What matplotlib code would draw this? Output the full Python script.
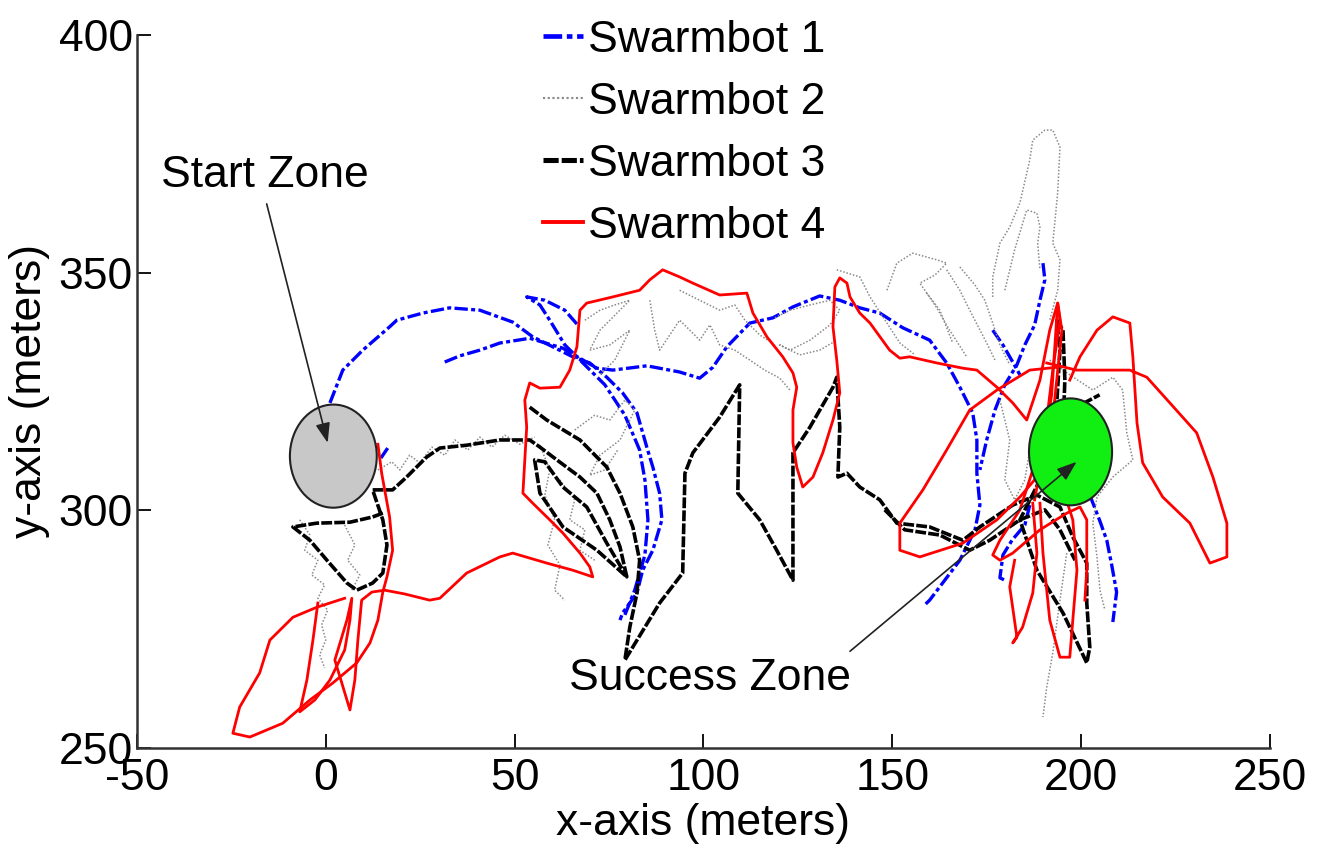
import matplotlib
matplotlib.use('Agg')
import matplotlib.pyplot as plt
from matplotlib import font_manager
from matplotlib.patches import Ellipse
from matplotlib.lines import Line2D

# prefer a narrow face for all text
installed = {f.name for f in font_manager.fontManager.ttflist}
narrow = [n for n in ('Liberation Sans Narrow', 'DejaVu Sans Condensed', 'Liberation Sans') if n in installed]
plt.rcParams['font.family'] = narrow + ['DejaVu Sans']
plt.rcParams['axes.unicode_minus'] = False

# ---- Swarmbot 1 track pieces (x, y in meters)
bot1_a = [(1.1, 322.6), (4.5, 329.5), (9.8, 333.7), (16.9, 338.6), (18.8, 340.0), (25.7, 341.5),
          (32.8, 342.6), (40.8, 342.1), (49.5, 339.6), (54.8, 336.5), (65.4, 332.3), (69.9, 331.0),
          (74.4, 328.0), (78.6, 324.7), (82.4, 320.5), (85.0, 313.3), (86.6, 309.1), (88.4, 303.6),
          (89.0, 298.0), (86.6, 291.6), (83.9, 287.4), (82.4, 282.6), (78.6, 278.4), (77.9, 276.9)]
bot1_b = [(79.2, 278.0), (81.8, 283.2), (84.5, 290.6), (85.3, 298.0), (84.5, 306.4), (83.1, 312.7),
          (79.2, 320.0), (73.9, 326.4), (68.6, 330.6), (63.3, 334.8), (59.3, 340.0), (56.7, 343.2),
          (53.2, 344.9), (58.0, 344.2), (63.3, 342.1), (66.7, 339.0)]
bot1_c = [(31.5, 331.2), (35.5, 332.5), (40.8, 333.7), (46.1, 335.2), (54.0, 336.2), (62.8, 334.1),
          (71.8, 329.9), (76.0, 329.5), (85.0, 330.4), (93.7, 329.1), (99.0, 327.8), (102.5, 330.1),
          (106.2, 334.4), (112.3, 339.4), (118.4, 340.5), (123.7, 342.8), (130.8, 345.1), (136.1, 344.2),
          (141.4, 342.6), (146.7, 341.5), (152.8, 338.4), (159.9, 335.8), (164.4, 331.0), (167.9, 325.9),
          (171.3, 320.5), (172.4, 314.8), (172.4, 307.8), (173.2, 301.1), (171.9, 295.9), (167.9, 289.5),
          (163.9, 285.3), (159.9, 281.1), (158.6, 280.1)]
bot1_d = [(14.6, 311.0), (16.4, 313.1)]
bot1_e = [(189.9, 352.0), (190.4, 348.5), (189.1, 344.2), (187.7, 339.0), (185.1, 334.8), (183.0, 330.6),
          (179.8, 326.4), (177.2, 321.1), (175.0, 314.8), (173.2, 308.5)]
bot1_f = [(176.6, 337.9), (179.3, 334.8), (181.9, 331.2), (183.8, 328.5)]
bot1_g = [(186.4, 301.1), (185.1, 296.9), (181.7, 293.7), (179.3, 290.6), (178.5, 285.8), (179.8, 285.3)]
bot1_h = [(202.3, 303.2), (204.9, 297.9), (206.8, 293.7), (208.1, 288.5), (209.4, 282.8), (208.4, 276.5)]
bot1 = [bot1_a, bot1_b, bot1_c, bot1_d, bot1_e, bot1_f, bot1_g, bot1_h]

# ---- Swarmbot 2 track pieces
bot2_a = [(13.8, 308.5), (17.5, 310.2), (19.6, 308.5), (22.2, 311.6), (24.9, 310.0), (28.1, 313.3),
          (31.5, 311.6), (34.2, 314.8), (37.6, 312.7), (40.8, 315.4), (44.0, 313.3), (47.4, 315.8),
          (51.4, 313.9), (55.3, 315.4)]
bot2_b = [(-6.9, 298.0), (-4.2, 294.8), (-5.6, 291.6), (-2.1, 289.5), (-3.7, 286.4), (-0.3, 284.3),
          (-2.1, 281.5), (0.5, 279.0), (-1.1, 275.9), (0.0, 272.7), (-1.6, 269.6), (-0.3, 266.8)]
bot2_c = [(5.0, 296.9), (7.7, 292.7), (5.8, 289.5), (9.0, 286.4), (6.9, 283.2)]
bot2_d = [(56.7, 313.7), (59.3, 308.5), (58.0, 303.2), (60.6, 298.0), (58.8, 292.7), (62.0, 288.5),
          (60.6, 283.2), (63.3, 281.1)]
bot2_e = [(65.9, 316.9), (71.2, 320.0), (75.2, 319.0), (79.2, 323.2), (81.8, 321.1), (77.9, 314.8),
          (72.6, 311.6), (69.9, 307.4), (73.9, 308.5), (77.3, 312.7)]
bot2_f = [(68.6, 340.0), (72.6, 342.1), (76.5, 343.2), (80.5, 344.2), (72.6, 337.9), (69.9, 333.7),
          (75.2, 334.8), (80.5, 337.9), (76.5, 331.6), (72.6, 328.5)]
bot2_g = [(85.8, 344.2), (87.1, 337.9), (88.4, 333.7), (91.1, 336.9), (93.7, 340.0), (96.4, 337.9),
          (99.0, 335.8), (101.7, 339.0), (104.3, 334.8), (108.3, 333.7), (112.3, 331.6), (116.2, 329.5),
          (120.2, 327.8), (122.9, 325.3)]
bot2_h = [(93.7, 346.3), (99.0, 344.2), (104.3, 342.1), (108.3, 343.2), (111.0, 340.0), (114.9, 336.9),
          (118.9, 334.8)]
bot2_i = [(118.9, 340.5), (122.9, 342.1), (128.2, 343.2), (133.5, 344.2), (136.1, 342.1), (133.5, 339.0),
          (128.2, 335.8), (122.9, 333.7), (120.2, 334.8), (125.5, 332.7), (130.8, 333.7), (135.3, 335.8)]
bot2_j = [(135.3, 350.6), (141.4, 349.1), (144.1, 344.9), (148.6, 339.4), (152.0, 335.2), (156.0, 332.7)]
bot2_k = [(148.6, 346.3), (151.2, 352.0), (155.4, 354.1), (161.8, 352.7), (164.4, 352.0), (161.3, 349.5),
          (157.3, 347.8), (161.3, 343.2), (165.2, 337.9), (169.7, 332.3)]
bot2_l = [(159.1, 345.7), (162.6, 342.1), (166.0, 335.2)]
bot2_m = [(164.4, 350.6), (167.9, 346.3), (170.5, 342.1), (175.0, 335.2), (177.2, 331.6)]
bot2_n = [(167.9, 351.2), (171.9, 347.4), (174.5, 344.2), (176.6, 339.4), (178.5, 334.8), (181.1, 330.6)]
bot2_o = [(176.6, 344.9), (176.6, 349.1), (178.5, 356.2), (181.1, 359.6), (183.8, 364.7), (186.4, 373.7),
          (187.2, 377.9), (190.4, 380.0), (192.5, 380.0), (194.4, 376.4), (193.8, 366.8), (192.5, 356.2),
          (194.4, 352.7), (193.8, 346.3), (191.7, 340.0)]
bot2_p = [(179.8, 346.3), (182.4, 354.8), (185.6, 363.2), (188.3, 362.5), (189.1, 359.6), (188.5, 356.2),
          (189.1, 350.6)]
bot2_q = [(191.7, 331.6), (197.0, 328.5), (203.1, 325.3), (208.4, 328.0), (211.0, 325.3), (212.1, 316.3),
          (213.7, 310.6), (208.4, 307.0), (204.2, 302.8), (203.1, 297.3), (204.2, 290.2), (205.0, 283.2),
          (206.3, 279.0)]
bot2_r = [(196.2, 291.0), (194.4, 281.1), (192.5, 270.0), (190.9, 262.8), (189.9, 256.5)]
bot2_s = [(178.5, 323.2), (181.1, 314.8), (179.8, 306.4), (182.4, 302.2), (185.1, 306.4), (186.4, 312.7)]
bot2_t = [(62.0, 306.4), (65.9, 302.2), (64.6, 298.0), (68.6, 295.9), (67.3, 291.6), (71.2, 289.5)]
bot2 = [bot2_a, bot2_b, bot2_c, bot2_d, bot2_e, bot2_f, bot2_g, bot2_h, bot2_i, bot2_j,
        bot2_k, bot2_l, bot2_m, bot2_n, bot2_o, bot2_p, bot2_q, bot2_r, bot2_s, bot2_t]

# ---- Swarmbot 3 track pieces
bot3_a = [(15.1, 299.4), (12.4, 298.6), (6.4, 297.5), (-2.4, 297.3), (-8.7, 296.5), (-4.2, 293.7),
          (0.3, 289.5), (5.6, 284.7), (8.2, 283.2), (12.4, 284.7), (15.1, 286.8), (16.2, 292.7),
          (15.1, 298.0), (12.4, 304.3), (17.7, 304.3), (21.4, 307.0), (26.7, 311.2), (30.2, 313.1),
          (37.3, 313.7), (46.1, 314.8), (49.5, 314.8), (54.0, 314.8), (56.7, 313.3), (61.2, 310.6),
          (67.3, 307.0), (71.8, 303.6), (75.2, 298.0), (77.9, 292.3), (79.7, 286.0), (71.8, 291.6),
          (62.8, 296.5), (56.7, 303.6), (55.3, 310.6), (58.0, 310.2), (62.8, 304.9), (69.1, 300.7),
          (74.4, 293.1), (79.7, 286.0)]
bot3_b = [(54.0, 321.7), (58.5, 319.0), (67.3, 314.8), (74.4, 309.1), (77.9, 303.6), (81.3, 296.5),
          (83.1, 289.5), (82.4, 282.6), (80.5, 275.4), (79.2, 268.5), (88.4, 280.5), (94.5, 286.8),
          (95.1, 307.8), (97.2, 312.1), (104.3, 319.6), (109.6, 326.4), (109.1, 303.6), (114.9, 298.0),
          (119.4, 291.6), (123.7, 285.3), (123.7, 312.1), (128.2, 317.5), (134.3, 325.9), (135.3, 328.0),
          (136.1, 317.5), (135.6, 307.0), (138.0, 307.8), (141.4, 304.9), (146.7, 302.2), (151.2, 297.3),
          (159.9, 296.5), (168.7, 293.7), (173.2, 296.5), (181.9, 301.1), (188.3, 303.2), (194.4, 300.7),
          (197.8, 294.4), (201.5, 288.9), (201.5, 280.5), (202.3, 271.2), (201.5, 267.9), (195.2, 278.4),
          (188.3, 287.4), (183.8, 298.0), (189.1, 306.4), (192.5, 314.8), (193.6, 323.2), (194.4, 333.7),
          (193.6, 340.0), (195.2, 337.9), (195.7, 327.4), (195.2, 316.9)]
bot3_c = [(148.0, 300.1), (153.3, 295.9), (162.6, 294.8), (170.5, 291.6), (175.8, 293.7), (183.8, 298.0),
          (190.4, 300.1), (194.4, 295.9), (198.4, 289.5)]
bot3_d = [(197.3, 321.1), (204.9, 324.3)]
bot3 = [bot3_a, bot3_b, bot3_c, bot3_d]

# ---- Swarmbot 4 track pieces
bot4_a = [(13.8, 313.9), (14.8, 307.8), (16.9, 298.6), (17.7, 291.6), (16.2, 286.0), (15.1, 282.8),
          (13.8, 276.9), (11.7, 272.1), (8.2, 267.9), (1.9, 263.7), (-4.2, 260.1), (-11.4, 255.2),
          (-20.1, 252.3), (-24.6, 253.1), (-22.8, 258.6), (-17.5, 265.8), (-14.8, 272.7), (-8.7, 277.5),
          (-2.4, 279.6), (5.0, 281.5)]
bot4_b = [(-2.1, 280.5), (-3.4, 272.7), (-5.0, 264.3), (-6.9, 257.6), (-2.9, 260.1), (1.1, 264.3),
          (5.0, 270.6), (6.4, 276.9), (6.9, 281.5), (5.6, 276.9), (2.4, 268.5), (6.4, 258.0),
          (7.7, 264.3), (8.5, 272.7), (9.5, 281.1), (12.2, 282.8), (15.6, 283.2), (20.9, 282.4),
          (27.5, 281.1), (30.2, 281.5), (37.3, 286.8), (46.1, 290.2), (49.5, 291.0), (58.5, 288.9),
          (65.4, 287.4), (70.7, 286.0), (69.9, 288.1), (67.3, 291.0), (62.8, 295.2), (59.3, 298.0),
          (54.8, 301.5), (52.2, 303.6), (52.7, 310.6), (53.2, 317.5), (52.7, 323.2), (54.0, 326.8),
          (56.7, 325.7), (62.0, 325.9), (64.6, 329.5), (66.5, 334.4), (67.3, 342.1), (69.1, 343.6),
          (76.0, 344.9), (83.1, 346.3), (85.8, 348.5), (89.2, 350.6), (93.7, 349.1), (97.2, 347.8),
          (104.3, 345.3), (111.5, 345.7), (113.1, 341.5), (116.8, 336.5), (121.0, 332.3), (123.7, 328.9),
          (124.7, 325.9), (123.7, 321.1), (123.7, 314.2), (124.7, 309.1), (126.3, 304.9), (129.0, 307.0),
          (131.6, 312.1), (134.3, 319.0), (136.1, 324.7), (135.3, 331.6), (134.3, 338.6), (134.8, 347.0),
          (136.1, 348.9), (138.0, 347.8), (138.8, 344.9), (141.4, 341.5), (144.1, 339.4), (149.3, 333.7),
          (152.0, 332.0), (154.6, 332.3), (161.8, 331.0), (168.7, 329.9), (172.4, 329.5), (177.7, 325.9),
          (181.9, 322.6), (185.6, 319.0), (189.1, 327.4), (191.7, 337.9), (193.8, 343.6), (194.4, 340.0),
          (192.5, 329.5), (190.9, 319.0), (189.1, 308.5), (187.7, 302.2)]
bot4_c = [(190.9, 331.0), (198.8, 329.5), (212.9, 329.5), (217.4, 328.0), (223.5, 322.6), (230.6, 316.3),
          (234.9, 307.0), (238.6, 297.3), (238.6, 290.2), (234.1, 288.9), (228.8, 297.3), (221.6, 302.8),
          (216.3, 310.0), (214.8, 318.4), (213.7, 332.3), (212.9, 339.4), (208.4, 340.7), (204.2, 337.9),
          (199.7, 332.3), (197.0, 327.4)]
bot4_d = [(193.6, 330.1), (186.4, 329.5), (177.7, 325.3), (170.5, 321.1), (164.4, 312.7), (158.1, 304.3),
          (152.0, 297.3), (152.0, 291.6), (157.3, 290.2), (168.7, 293.1), (177.7, 298.0), (183.8, 302.8),
          (188.3, 307.0), (190.4, 314.8), (192.2, 324.3), (193.8, 343.6), (194.9, 337.9), (193.0, 323.2),
          (190.4, 310.6)]
bot4_e = [(187.2, 308.5), (183.8, 300.1), (178.5, 293.7), (176.6, 290.6), (178.5, 289.5), (181.9, 291.0),
          (189.1, 295.9), (196.2, 299.4), (199.7, 300.7), (201.5, 298.0), (201.5, 287.4), (201.0, 281.1)]
bot4_f = [(182.4, 289.5), (181.1, 283.9), (183.0, 273.3), (181.9, 272.1), (184.5, 275.4), (187.2, 282.6),
          (188.3, 291.0), (187.2, 301.5)]
bot4_g = [(189.1, 301.5), (189.9, 291.0), (191.7, 276.9), (194.4, 269.1), (197.0, 269.1), (197.8, 276.9),
          (198.9, 287.4), (197.8, 298.0), (195.7, 303.2)]
bot4 = [bot4_a, bot4_b, bot4_c, bot4_d, bot4_e, bot4_f, bot4_g]

labels = ['Swarmbot 1', 'Swarmbot 2', 'Swarmbot 3', 'Swarmbot 4']

# zones: centre and full width / height in meters
start_zone = (2.0, 311.4, 23.0, 21.7)
success_zone = (197.2, 312.3, 22.0, 22.5)

styles = [
    dict(color='#0000ff', lw=2.4, ls=(0, (4, 1, 1.2, 1))),
    dict(color='#8a8a8a', lw=1.1, ls=(0, (1, 1.2))),
    dict(color='black', lw=2.6, ls=(0, (3, 0.6))),
    dict(color='#ff0000', lw=2.0, ls='-'),
]


def main():
    fs = 32
    fig = plt.figure(figsize=(13.27, 8.56), dpi=100)
    ax = fig.add_axes([0.1032, 0.1262, 0.8538, 0.8329])

    tracks = [bot1, bot2, bot3, bot4]
    for segs, st in zip(tracks, styles):
        for seg in segs:
            xs = [p[0] for p in seg]
            ys = [p[1] for p in seg]
            ax.plot(xs, ys, color=st['color'], lw=st['lw'], linestyle=st['ls'],
                    solid_joinstyle='round', zorder=2)

    # start and success zones drawn above the tracks
    cx, cy, w, h = start_zone
    ax.add_patch(Ellipse((cx, cy), w, h, facecolor='#c8c8c8', edgecolor='#222222', lw=1.5, zorder=5))
    cx, cy, w, h = success_zone
    ax.add_patch(Ellipse((cx, cy), w, h, facecolor='#11ee11', edgecolor='#222222', lw=1.5, zorder=5))

    arrow = dict(arrowstyle='-|>,head_length=0.6,head_width=0.22', color='#222222', lw=1.2,
                 shrinkA=4, shrinkB=0, mutation_scale=20)
    ax.annotate('Start Zone', xy=(0.5, 314.2), xytext=(-16.2, 370.5), fontsize=fs,
                ha='center', va='center', zorder=6,
                arrowprops=dict(arrow, relpos=(0.5, 0.0)))
    ax.annotate('Success Zone', xy=(198.8, 310.2), xytext=(101.7, 264.7), fontsize=fs,
                ha='center', va='center', zorder=6,
                arrowprops=dict(arrow, relpos=(0.97, 1.0)))

    ax.set_xlim(-50, 250)
    ax.set_ylim(250, 400)
    ax.set_xticks([-50, 0, 50, 100, 150, 200, 250])
    ax.set_yticks([250, 300, 350, 400])
    ax.tick_params(direction='in', length=10, width=1.3, labelsize=fs, colors='black')
    ax.tick_params(axis='x', pad=7)
    ax.tick_params(axis='y', pad=3)
    ax.spines['top'].set_visible(False)
    ax.spines['right'].set_visible(False)
    for s in ('left', 'bottom'):
        ax.spines[s].set_linewidth(1.8)
        ax.spines[s].set_color('#333333')

    ax.set_xlabel('x-axis (meters)', fontsize=fs, labelpad=3)
    ax.set_ylabel('y-axis (meters)', fontsize=fs, labelpad=6)

    handles = [Line2D([], [], color=st['color'], lw=st['lw'] * 1.4, linestyle=st['ls']) for st in styles]
    fig.legend(handles, labels, loc='upper left', bbox_to_anchor=(543 / 1327, 1 - 20 / 856),
               frameon=False, fontsize=fs, handlelength=0.9, handletextpad=0.12,
               labelspacing=0.47, borderpad=0, borderaxespad=0)

    fig.savefig('out.png', dpi=100)


if __name__ == '__main__':
    main()
